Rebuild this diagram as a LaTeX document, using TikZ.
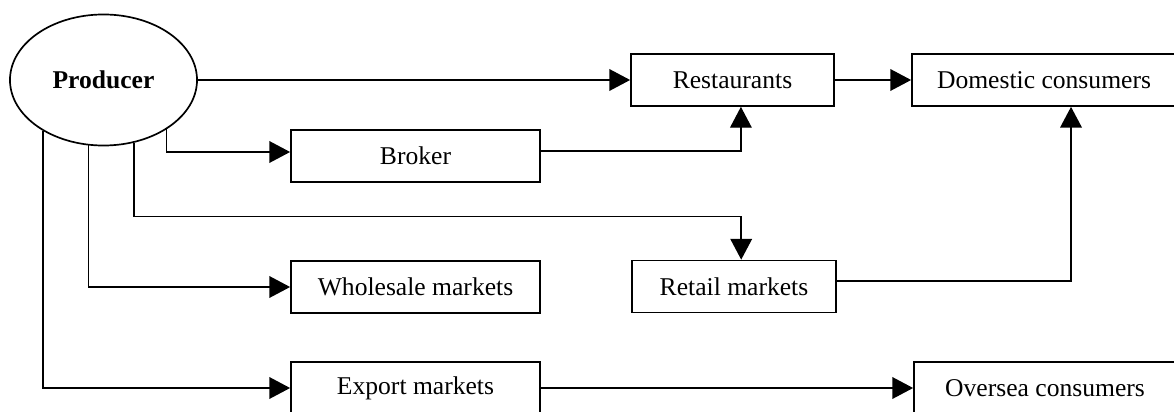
\documentclass[tikz,border=0pt]{standalone}
\usepackage{fontspec}
\setmainfont{Liberation Serif}
\usetikzlibrary{arrows.meta, shapes.geometric, positioning}

\begin{document}
\begin{tikzpicture}[
            x = 0.025cm,
            y = -0.025cm,
            > = {Triangle[length=0.52cm, width=0.54cm]},
            line width = 1.2pt
        ]

        \tikzstyle{chain box}=[
            draw = black,
            rectangle,
            minimum height = 1.3cm,
            inner sep = 0pt,
            font = \fontsize{18.2}{21}\selectfont
        ]
        \tikzstyle{source}=[
            draw = black,
            ellipse,
            minimum width = 4.675cm,
            minimum height = 3.275cm,
            inner sep = 0pt,
            font = \fontsize{18.2}{21}\selectfont\bfseries
        ]

        \useasboundingbox (0,0) rectangle (1174,412);

        \node[source] (prod) at (103.5,80) {Producer};
        \node[chain box, minimum width=5.075cm] (rest) at (732.5,80) {Restaurants};
        \node[chain box, minimum width=6.6cm] (dom) at (1044,80) {Domestic consumers};
        \node[chain box, minimum width=6.225cm] (broker) at (415.5,156) {Broker};
        \node[chain box, minimum width=6.225cm] (whole) at (415.5,287) {Wholesale markets};
        \node[chain box, minimum width=5.1cm] (retail) at (734,286.5) {Retail markets};
        \node[chain box, minimum width=6.225cm] (export) at (415.5,388) {Export markets};
        \node[chain box, minimum width=6.55cm] (overs) at (1045,388) {Oversea consumers};

        % producer outlets
        \draw[->] (prod) -- (rest);
        \draw[->] (prod.-38.7) |- ([yshift=0.1cm]broker.west);
        \draw[->] (prod.-64.6) |- ([xshift=0.18cm, yshift=1.075cm]retail.north) -- ([xshift=0.18cm]retail.north);
        \draw[->] (prod.-103.5) |- (whole);
        \draw[->] (prod.-140.5) |- (export);

        % onward flows
        \draw[->] (rest) -- (dom);
        \draw[->, line width=0.9pt] ([yshift=0.125cm]broker.east) -| ([xshift=0.21cm]rest.south);
        \draw[->] ([yshift=0.14cm]retail.east) -| ([xshift=0.675cm]dom.south);
        \draw[->] (export) -- (overs);

    \end{tikzpicture}
\end{document}
